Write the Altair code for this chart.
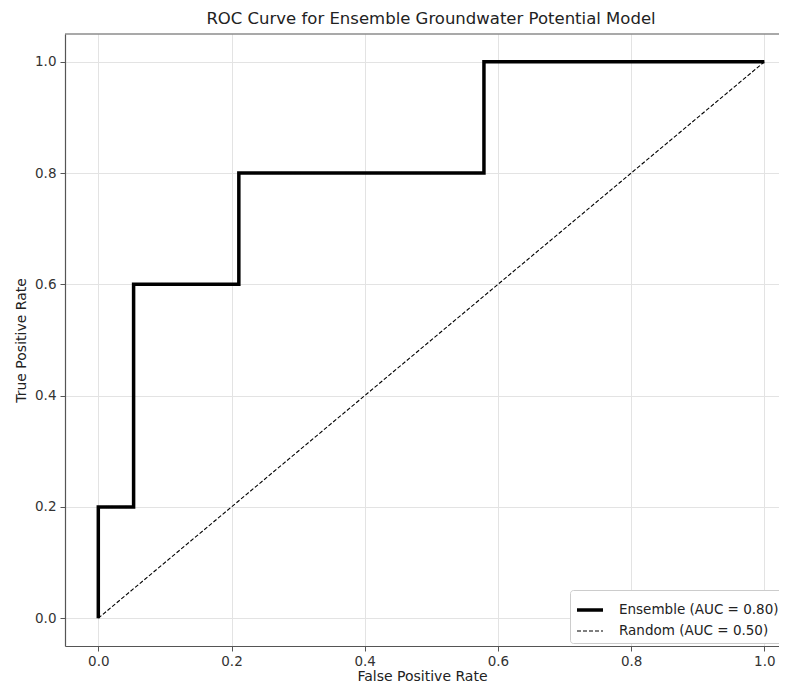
import altair as alt
import pandas as pd

# ROC curve points
fpr_ensemble = [0.0, 0.0, 0.053, 0.053, 0.211, 0.211, 0.579, 0.579, 1.0]
tpr_ensemble = [0.0, 0.2, 0.2, 0.6, 0.6, 0.8, 0.8, 1.0, 1.0]
fpr_random = [0.0, 1.0]
tpr_random = [0.0, 1.0]
series_labels = ["Ensemble (AUC = 0.80)", "Random (AUC = 0.50)"]
tick_values = [0.0, 0.2, 0.4, 0.6, 0.8, 1.0]

rows = []
for i, (fx, ty) in enumerate(zip(fpr_ensemble, tpr_ensemble)):
    rows.append({"series": series_labels[0], "fpr": fx, "tpr": ty, "step": i})
for i, (fx, ty) in enumerate(zip(fpr_random, tpr_random)):
    rows.append({"series": series_labels[1], "fpr": fx, "tpr": ty, "step": i})
df = pd.DataFrame(rows)

FONT = "DejaVu Sans"
W, H = 714, 612
FRAME = "#555555"

leg = alt.Legend(
    title=None, orient="none", legendX=505, legendY=556,
    symbolType="stroke", symbolSize=676, labelFontSize=13.5, labelFont=FONT,
    labelColor="#222", labelOffset=14, padding=5, rowPadding=-4,
    strokeColor="#cccccc", fillColor="white", cornerRadius=3,
)

x_enc = alt.X(
    "fpr:Q",
    scale=alt.Scale(domain=[-0.05, 1.022], nice=False, zero=False),
    axis=alt.Axis(values=tick_values, format=".1f", title="False Positive Rate",
                  titlePadding=2, labelPadding=3),
)
y_enc = alt.Y(
    "tpr:Q",
    scale=alt.Scale(domain=[-0.05, 1.05], nice=False, zero=False),
    axis=alt.Axis(values=tick_values, format=".1f", title="True Positive Rate",
                  titlePadding=6, labelPadding=4),
)

lines = alt.Chart(df).mark_line(clip=True).encode(
    x=x_enc,
    y=y_enc,
    order=alt.Order("step:Q"),
    color=alt.Color("series:N", scale=alt.Scale(domain=series_labels, range=["black", "black"]), legend=leg),
    strokeDash=alt.StrokeDash("series:N", scale=alt.Scale(domain=series_labels, range=[[1, 0], [4, 2]]), legend=leg),
    strokeWidth=alt.StrokeWidth("series:N", scale=alt.Scale(domain=series_labels, range=[3.5, 1.1]), legend=leg),
)

top_frame = alt.Chart(pd.DataFrame({"v": [0]})).mark_rule(color=FRAME, strokeWidth=1.2).encode(
    x=alt.value(0), x2=alt.value(W), y=alt.value(0)
)

chart = alt.layer(lines, top_frame).properties(
    width=W, height=H,
    autosize=alt.AutoSizeParams(type="none"),
    padding={"left": 57, "top": 26, "right": 0, "bottom": 38},
    title=alt.TitleParams("ROC Curve for Ensemble Groundwater Potential Model",
                          font=FONT, fontSize=16.5, fontWeight="normal",
                          color="#222", offset=6, dx=9),
).configure_view(
    stroke=None
).configure_axis(
    labelFont=FONT, labelFontSize=13.5, labelColor="#333",
    titleFont=FONT, titleFontSize=14, titleFontWeight="normal", titleColor="#222",
    domain=True, domainColor=FRAME, domainWidth=1.2,
    tickColor=FRAME, tickSize=5,
    gridColor="#e3e3e3", gridWidth=1,
)

chart.save("out.html", embed_options={"renderer": "svg", "actions": False})
